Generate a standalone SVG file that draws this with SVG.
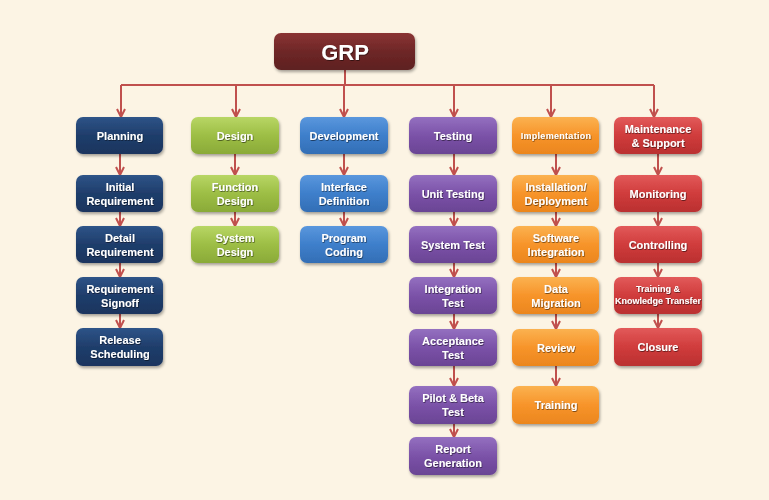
<svg xmlns="http://www.w3.org/2000/svg" width="769" height="500" viewBox="0 0 769 500">
<defs>
<style>
.t{font-family:"Liberation Sans",Arial,sans-serif;font-weight:bold;font-size:11px;fill:#fff;text-anchor:middle;filter:url(#ts)}
.s{font-size:9px}
.c{fill:none;stroke:#C0504D;stroke-width:2}
.a{marker-end:url(#ah)}
.b{filter:url(#sh)}
</style>
<filter id="sh" x="-10%" y="-10%" width="125%" height="140%"><feDropShadow dx="1" dy="2" stdDeviation="1.5" flood-color="#000" flood-opacity="0.35"/></filter>
<filter id="ts" x="-10%" y="-30%" width="120%" height="160%"><feDropShadow dx="0.6" dy="0.8" stdDeviation="0.4" flood-color="#000" flood-opacity="0.6"/></filter>
<marker id="ah" viewBox="0 0 10 10" refX="9" refY="5" markerWidth="10" markerHeight="10" markerUnits="userSpaceOnUse" orient="auto"><path d="M1,1 L9,5 L1,9" fill="none" stroke="#C0504D" stroke-width="2"/></marker>
<linearGradient id="gGrp" x1="0" y1="0" x2="0" y2="1"><stop offset="0" stop-color="#8A3434"/><stop offset="0.5" stop-color="#6E2727"/><stop offset="1" stop-color="#5E2020"/></linearGradient>
<linearGradient id="gPl" x1="0" y1="0" x2="0" y2="1"><stop offset="0" stop-color="#2E5488"/><stop offset="0.5" stop-color="#1F3D6B"/><stop offset="1" stop-color="#1A355E"/></linearGradient>
<linearGradient id="gDe" x1="0" y1="0" x2="0" y2="1"><stop offset="0" stop-color="#B8D665"/><stop offset="0.5" stop-color="#9DBE45"/><stop offset="1" stop-color="#8AAA38"/></linearGradient>
<linearGradient id="gDv" x1="0" y1="0" x2="0" y2="1"><stop offset="0" stop-color="#5A97DD"/><stop offset="0.5" stop-color="#3E7FCB"/><stop offset="1" stop-color="#336EB5"/></linearGradient>
<linearGradient id="gTe" x1="0" y1="0" x2="0" y2="1"><stop offset="0" stop-color="#9470C0"/><stop offset="0.5" stop-color="#7B52A8"/><stop offset="1" stop-color="#6A4494"/></linearGradient>
<linearGradient id="gIm" x1="0" y1="0" x2="0" y2="1"><stop offset="0" stop-color="#FBB250"/><stop offset="0.5" stop-color="#F7942A"/><stop offset="1" stop-color="#EB861E"/></linearGradient>
<linearGradient id="gMa" x1="0" y1="0" x2="0" y2="1"><stop offset="0" stop-color="#E25A5A"/><stop offset="0.5" stop-color="#D03C3C"/><stop offset="1" stop-color="#BA3030"/></linearGradient>
</defs>
<rect x="0" y="0" width="769" height="500" fill="#FCF4E4"/>

<g id="connectors">
<path class="c" d="M345,70 V85 M121,85 H654"/>
<path class="c a" d="M121,85 V117"/>
<path class="c a" d="M236,85 V117"/>
<path class="c a" d="M344,85 V117"/>
<path class="c a" d="M454,85 V117"/>
<path class="c a" d="M551,85 V117"/>
<path class="c a" d="M654,85 V117"/>
<path class="c a" d="M120,154 V175"/>
<path class="c a" d="M120,212 V226"/>
<path class="c a" d="M120,263 V277"/>
<path class="c a" d="M120,314 V328"/>
<path class="c a" d="M235,154 V175"/>
<path class="c a" d="M235,212 V226"/>
<path class="c a" d="M344,154 V175"/>
<path class="c a" d="M344,212 V226"/>
<path class="c a" d="M454,154 V175"/>
<path class="c a" d="M454,212 V226"/>
<path class="c a" d="M454,263 V277"/>
<path class="c a" d="M454,314 V329"/>
<path class="c a" d="M454,366 V386"/>
<path class="c a" d="M454,424 V437"/>
<path class="c a" d="M556,154 V175"/>
<path class="c a" d="M556,212 V226"/>
<path class="c a" d="M556,263 V277"/>
<path class="c a" d="M556,314 V329"/>
<path class="c a" d="M556,366 V386"/>
<path class="c a" d="M658,154 V175"/>
<path class="c a" d="M658,212 V226"/>
<path class="c a" d="M658,263 V277"/>
<path class="c a" d="M658,314 V328"/>
</g>

<g id="grp"><rect class="b" x="274" y="33" width="141" height="37" rx="7" fill="url(#gGrp)"/><text class="t" x="345" y="60" style="font-size:22px">GRP</text></g>

<g id="planning"><rect class="b" x="76" y="117" width="87" height="37" rx="7" fill="url(#gPl)"/><text class="t" x="120" y="140">Planning</text></g>
<g id="initial-requirement"><rect class="b" x="76" y="175" width="87" height="37" rx="7" fill="url(#gPl)"/><text class="t" x="120" y="191">Initial</text><text class="t" x="120" y="205">Requirement</text></g>
<g id="detail-requirement"><rect class="b" x="76" y="226" width="87" height="37" rx="7" fill="url(#gPl)"/><text class="t" x="120" y="242">Detail</text><text class="t" x="120" y="256">Requirement</text></g>
<g id="requirement-signoff"><rect class="b" x="76" y="277" width="87" height="37" rx="7" fill="url(#gPl)"/><text class="t" x="120" y="293">Requirement</text><text class="t" x="120" y="307">Signoff</text></g>
<g id="release-scheduling"><rect class="b" x="76" y="328" width="87" height="38" rx="7" fill="url(#gPl)"/><text class="t" x="120" y="344">Release</text><text class="t" x="120" y="358">Scheduling</text></g>

<g id="design"><rect class="b" x="191" y="117" width="88" height="37" rx="7" fill="url(#gDe)"/><text class="t" x="235" y="140">Design</text></g>
<g id="function-design"><rect class="b" x="191" y="175" width="88" height="37" rx="7" fill="url(#gDe)"/><text class="t" x="235" y="191">Function</text><text class="t" x="235" y="205">Design</text></g>
<g id="system-design"><rect class="b" x="191" y="226" width="88" height="37" rx="7" fill="url(#gDe)"/><text class="t" x="235" y="242">System</text><text class="t" x="235" y="256">Design</text></g>

<g id="development"><rect class="b" x="300" y="117" width="88" height="37" rx="7" fill="url(#gDv)"/><text class="t" x="344" y="140">Development</text></g>
<g id="interface-definition"><rect class="b" x="300" y="175" width="88" height="37" rx="7" fill="url(#gDv)"/><text class="t" x="344" y="191">Interface</text><text class="t" x="344" y="205">Definition</text></g>
<g id="program-coding"><rect class="b" x="300" y="226" width="88" height="37" rx="7" fill="url(#gDv)"/><text class="t" x="344" y="242">Program</text><text class="t" x="344" y="256">Coding</text></g>

<g id="testing"><rect class="b" x="409" y="117" width="88" height="37" rx="7" fill="url(#gTe)"/><text class="t" x="453" y="140">Testing</text></g>
<g id="unit-testing"><rect class="b" x="409" y="175" width="88" height="37" rx="7" fill="url(#gTe)"/><text class="t" x="453" y="198">Unit Testing</text></g>
<g id="system-test"><rect class="b" x="409" y="226" width="88" height="37" rx="7" fill="url(#gTe)"/><text class="t" x="453" y="249">System Test</text></g>
<g id="integration-test"><rect class="b" x="409" y="277" width="88" height="37" rx="7" fill="url(#gTe)"/><text class="t" x="453" y="293">Integration</text><text class="t" x="453" y="307">Test</text></g>
<g id="acceptance-test"><rect class="b" x="409" y="329" width="88" height="37" rx="7" fill="url(#gTe)"/><text class="t" x="453" y="345">Acceptance</text><text class="t" x="453" y="359">Test</text></g>
<g id="pilot-beta-test"><rect class="b" x="409" y="386" width="88" height="38" rx="7" fill="url(#gTe)"/><text class="t" x="453" y="402">Pilot &amp; Beta</text><text class="t" x="453" y="416">Test</text></g>
<g id="report-generation"><rect class="b" x="409" y="437" width="88" height="38" rx="7" fill="url(#gTe)"/><text class="t" x="453" y="453">Report</text><text class="t" x="453" y="467">Generation</text></g>

<g id="implementation"><rect class="b" x="512" y="117" width="87" height="37" rx="7" fill="url(#gIm)"/><text class="t s" x="556" y="139" style="letter-spacing:0.3px">Implementation</text></g>
<g id="installation-deployment"><rect class="b" x="512" y="175" width="87" height="37" rx="7" fill="url(#gIm)"/><text class="t" x="556" y="191">Installation/</text><text class="t" x="556" y="205">Deployment</text></g>
<g id="software-integration"><rect class="b" x="512" y="226" width="87" height="37" rx="7" fill="url(#gIm)"/><text class="t" x="556" y="242">Software</text><text class="t" x="556" y="256">Integration</text></g>
<g id="data-migration"><rect class="b" x="512" y="277" width="87" height="37" rx="7" fill="url(#gIm)"/><text class="t" x="556" y="293">Data</text><text class="t" x="556" y="307">Migration</text></g>
<g id="review"><rect class="b" x="512" y="329" width="87" height="37" rx="7" fill="url(#gIm)"/><text class="t" x="556" y="352">Review</text></g>
<g id="training"><rect class="b" x="512" y="386" width="87" height="38" rx="7" fill="url(#gIm)"/><text class="t" x="556" y="409">Training</text></g>

<g id="maintenance-support"><rect class="b" x="614" y="117" width="88" height="37" rx="7" fill="url(#gMa)"/><text class="t" x="658" y="133">Maintenance</text><text class="t" x="658" y="147">&amp; Support</text></g>
<g id="monitoring"><rect class="b" x="614" y="175" width="88" height="37" rx="7" fill="url(#gMa)"/><text class="t" x="658" y="198">Monitoring</text></g>
<g id="controlling"><rect class="b" x="614" y="226" width="88" height="37" rx="7" fill="url(#gMa)"/><text class="t" x="658" y="249">Controlling</text></g>
<g id="training-knowledge-transfer"><rect class="b" x="614" y="277" width="88" height="37" rx="7" fill="url(#gMa)"/><text class="t s" x="658" y="292">Training &amp;</text><text class="t s" x="658" y="304">Knowledge Transfer</text></g>
<g id="closure"><rect class="b" x="614" y="328" width="88" height="38" rx="7" fill="url(#gMa)"/><text class="t" x="658" y="351">Closure</text></g>
</svg>
